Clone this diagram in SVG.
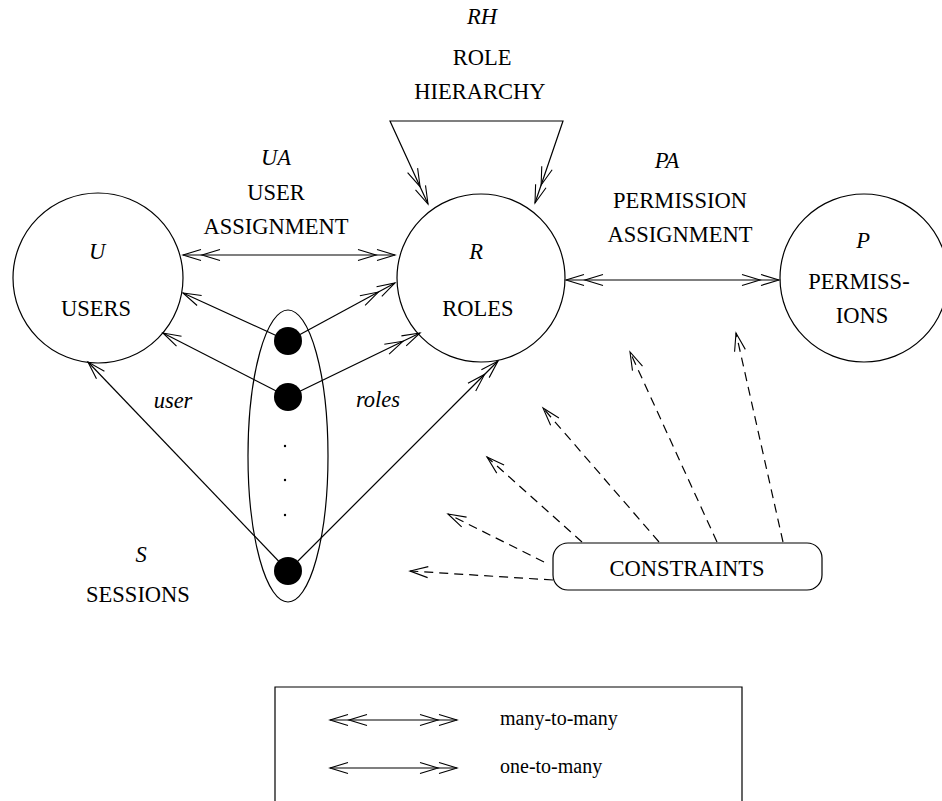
<svg xmlns="http://www.w3.org/2000/svg" width="942" height="801" viewBox="0 0 942 801">
<style>
text{font-family:"Liberation Serif","Times New Roman",serif;font-size:22.5px;fill:#000;text-anchor:middle}
.it{font-style:italic}
.lg{font-size:20px;text-anchor:start}
.ln{fill:none;stroke:#000;stroke-width:1.2}
.dash{stroke-dasharray:9,6}
.node{fill:none;stroke:#000;stroke-width:1.2}
</style>
<defs>
<marker id="h1" markerUnits="userSpaceOnUse" markerWidth="40" markerHeight="20" viewBox="-40 -10 40 20" refX="0" refY="0" orient="auto-start-reverse" overflow="visible">
<path d="M-18,-5.5 L0,0 L-18,5.5" fill="none" stroke="#000" stroke-width="1.1" stroke-dasharray="none"/>
</marker>
<marker id="h2" markerUnits="userSpaceOnUse" markerWidth="40" markerHeight="20" viewBox="-40 -10 40 20" refX="0" refY="0" orient="auto-start-reverse" overflow="visible">
<path d="M-18,-5.5 L0,0 L-18,5.5 M-37,-5.5 L-19,0 L-37,5.5" fill="none" stroke="#000" stroke-width="1.1" stroke-dasharray="none"/>
</marker>
</defs>
<rect width="942" height="801" fill="#fff"/>

<g id="connectors">
<!-- UA many-to-many -->
<line class="ln" x1="183" y1="255" x2="395" y2="255" marker-start="url(#h2)" marker-end="url(#h2)"/>
<!-- PA many-to-many -->
<line class="ln" x1="566" y1="280" x2="779" y2="280" marker-start="url(#h2)" marker-end="url(#h2)"/>
<!-- RH -->
<path class="ln" d="M428,204 L390,121 L563,121 L535,203" marker-start="url(#h2)" marker-end="url(#h2)"/>
<!-- sessions to users -->
<line class="ln" x1="288" y1="341" x2="183" y2="293" marker-end="url(#h1)"/>
<line class="ln" x1="288" y1="397" x2="163" y2="333" marker-end="url(#h1)"/>
<line class="ln" x1="288" y1="571" x2="88" y2="362" marker-end="url(#h1)"/>
<!-- sessions to roles -->
<line class="ln" x1="288" y1="341" x2="395" y2="283" marker-end="url(#h2)"/>
<line class="ln" x1="288" y1="397" x2="420" y2="333" marker-end="url(#h2)"/>
<line class="ln" x1="288" y1="571" x2="498" y2="361" marker-end="url(#h2)"/>
<!-- constraints -->
<line class="ln dash" x1="553" y1="580" x2="410" y2="571" marker-end="url(#h1)"/>
<line class="ln dash" x1="544" y1="562" x2="448" y2="514" marker-end="url(#h1)"/>
<line class="ln dash" x1="582" y1="542" x2="487" y2="457" marker-end="url(#h1)"/>
<line class="ln dash" x1="659" y1="542" x2="543" y2="408" marker-end="url(#h1)"/>
<line class="ln dash" x1="717" y1="542" x2="630" y2="352" marker-end="url(#h1)"/>
<line class="ln dash" x1="783" y1="542" x2="736" y2="333" marker-end="url(#h1)"/>
</g>

<g id="rh-label">
<text class="it" x="482" y="24">RH</text>
<text x="482" y="65">ROLE</text>
<text x="480" y="99">HIERARCHY</text>
</g>
<g id="ua-label">
<text class="it" x="276" y="165">UA</text>
<text x="276" y="200">USER</text>
<text x="276" y="234">ASSIGNMENT</text>
</g>
<g id="pa-label">
<text class="it" x="667" y="168">PA</text>
<text x="680" y="208">PERMISSION</text>
<text x="680" y="242">ASSIGNMENT</text>
</g>

<g id="users">
<circle class="node" cx="98" cy="278" r="85"/>
<text class="it" x="97" y="259">U</text>
<text x="96" y="316">USERS</text>
</g>
<g id="roles">
<circle class="node" cx="481" cy="278" r="84"/>
<text class="it" x="476" y="259">R</text>
<text x="478" y="316">ROLES</text>
</g>
<g id="permissions">
<circle class="node" cx="864" cy="278" r="84"/>
<text class="it" x="863" y="248">P</text>
<text x="859" y="289">PERMISS-</text>
<text x="862" y="323">IONS</text>
</g>
<g id="sessions">
<ellipse class="node" cx="288" cy="456" rx="40" ry="146"/>
<circle cx="288" cy="341" r="14" fill="#000"/>
<circle cx="288" cy="397" r="14" fill="#000"/>
<circle cx="285" cy="446" r="1.2" fill="#000"/>
<circle cx="285" cy="480" r="1.2" fill="#000"/>
<circle cx="285" cy="515" r="1.2" fill="#000"/>
<circle cx="288" cy="571" r="14" fill="#000"/>
<text class="it" x="141" y="562">S</text>
<text x="138" y="602">SESSIONS</text>
</g>
<g id="func-labels">
<text class="it" x="173" y="408">user</text>
<text class="it" x="378" y="407">roles</text>
</g>
<g id="constraints">
<rect class="node" x="553" y="543" width="269" height="47" rx="15" ry="15"/>
<text x="687" y="576">CONSTRAINTS</text>
</g>
<g id="legend">
<path class="ln" d="M275,805 L275,687 L742,687 L742,805"/>
<line class="ln" x1="330" y1="720" x2="457" y2="720" marker-start="url(#h2)" marker-end="url(#h2)"/>
<line class="ln" x1="330" y1="768" x2="457" y2="768" marker-start="url(#h1)" marker-end="url(#h2)"/>
<text class="lg" x="500" y="725">many-to-many</text>
<text class="lg" x="500" y="773">one-to-many</text>
</g>
</svg>
